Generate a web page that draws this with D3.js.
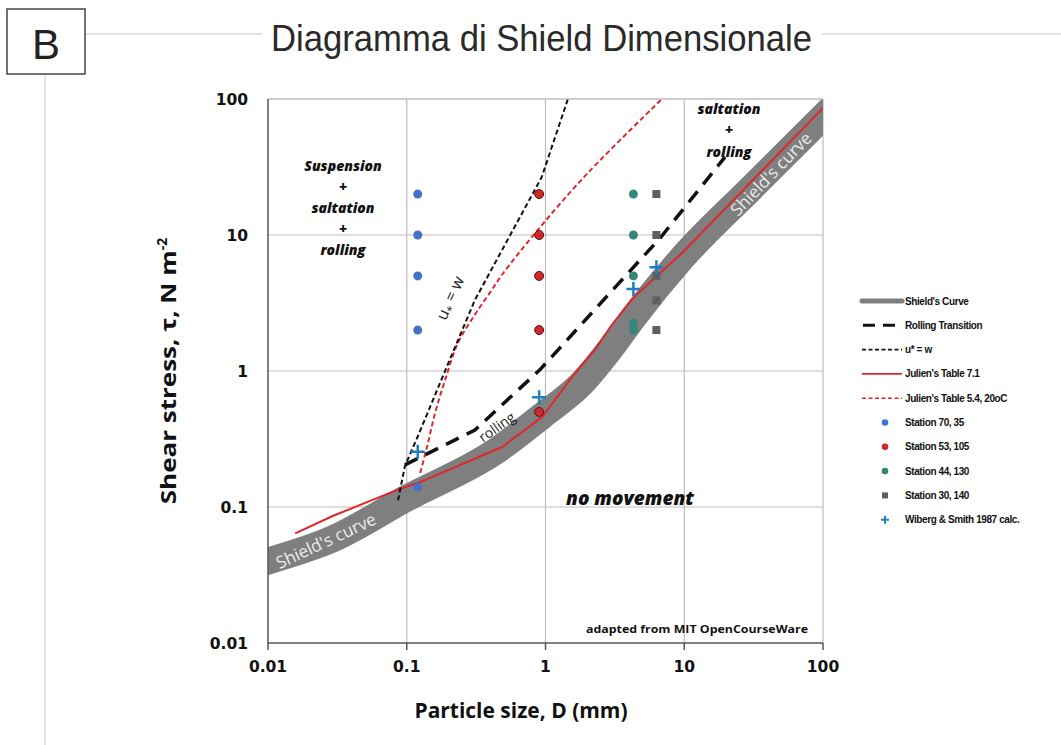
<!DOCTYPE html>
<html>
<head>
<meta charset="utf-8">
<script src="https://cdn.jsdelivr.net/npm/d3@7"></script>
<style>
  body { margin: 0; background: #fff; }
  svg text { font-family: "Open Sans", "Liberation Sans", sans-serif; }
</style>
</head>
<body>
<div id="chart"></div>
<script>
const width = 1061;
const height = 745;

// decade ticks on both log axes
const xTicks = [0.01, 0.1, 1, 10, 100];
const yTicks = [0.01, 0.1, 1, 10, 100];
const tickText = ["0.01", "0.1", "1", "10", "100"];

// curves, [D mm, tau N/m2]
const shieldsBand = [[0.01, 0.040], [0.029, 0.058], [0.1, 0.116], [0.43, 0.254], [0.95, 0.47], [1.84, 0.82], [3.0, 1.5], [4.27, 2.45], [9.8, 6.9], [31, 22.5], [100, 74]];
const julien71 = [[0.0157, 0.064], [0.029, 0.0855], [0.089, 0.136], [0.12, 0.15], [0.486, 0.276], [0.944, 0.459], [1.55, 0.9], [2.27, 1.43], [3.0, 2.18], [4.27, 3.44], [9.8, 7.5], [100, 86]];
const julien54 = [[0.125, 0.178], [0.14, 0.276], [0.16, 0.49], [0.189, 0.86], [0.234, 1.61], [0.31, 2.6], [0.4, 3.8], [0.486, 5.1], [0.88, 10.9], [2.02, 28.6], [6.9, 100]];
const uStarW = [[0.0865, 0.112], [0.097, 0.2], [0.12, 0.33], [0.2, 1.15], [0.31, 3.33], [0.94, 26.7], [1.45, 100]];
const rollingTransition = [[0.097, 0.204], [0.31, 0.368], [0.91, 1.02], [6.7, 9.5], [19.7, 37.5]];

// station measurements
const station70 = [[0.12, 20], [0.12, 10], [0.12, 5], [0.12, 2], [0.12, 0.14]];
const station53 = [[0.9, 20], [0.9, 10], [0.9, 5], [0.9, 2], [0.9, 0.5]];
const station44 = [[4.3, 20], [4.3, 10], [4.3, 5], [4.3, 2.25], [4.3, 2]];
const station30 = [[6.3, 20], [6.3, 10], [6.3, 5], [6.3, 3.3], [6.3, 2]];
const wiberg = [[0.12, 0.255], [0.9, 0.64], [4.3, 4.0], [6.3, 5.8]];

const legendLabels = ["Shield's Curve", "Rolling Transition", "u* = w", "Julien's Table 7.1", "Julien's Table 5.4, 20oC",
  "Station 70, 35", "Station 53, 105", "Station 44, 130", "Station 30, 140", "Wiberg & Smith 1987 calc."];

const svg = d3.select("#chart")
  .append("svg")
  .attr("width", width)
  .attr("height", height);

svg.append("rect").attr("width", width).attr("height", height).attr("fill", "#fff");

// header: panel letter box, rule lines and title
svg.append("line").attr("x1", 45).attr("x2", 45).attr("y1", 74).attr("y2", height)
  .attr("stroke", "#e4e4e4").attr("stroke-width", 2);
svg.append("line").attr("x1", 85).attr("x2", 262).attr("y1", 34).attr("y2", 34)
  .attr("stroke", "#e4e4e4").attr("stroke-width", 2);
svg.append("line").attr("x1", 822).attr("x2", width).attr("y1", 34).attr("y2", 34)
  .attr("stroke", "#e4e4e4").attr("stroke-width", 2);
svg.append("rect").attr("x", 7).attr("y", 9).attr("width", 78).attr("height", 65)
  .attr("fill", "#fff").attr("stroke", "#444").attr("stroke-width", 1.5);
svg.append("text").attr("x", 46).attr("y", 59).attr("text-anchor", "middle")
  .style("font-family", "Liberation Sans, Arial, sans-serif").style("font-size", "42px").attr("fill", "#222")
  .text("B");
svg.append("text").attr("x", 271).attr("y", 51)
  .attr("textLength", 541).attr("lengthAdjust", "spacingAndGlyphs")
  .style("font-family", "Liberation Sans, Arial, sans-serif").style("font-size", "37px").attr("fill", "#2a2a2a")
  .text("Diagramma di Shield Dimensionale");

// scales
const x = d3.scaleLog().domain([0.01, 100]).range([268, 823]);
const y = d3.scaleLog().domain([0.01, 100]).range([643, 99]);

const line = d3.line().x(d => x(d[0])).y(d => y(d[1]));
const smooth = d3.line().x(d => x(d[0])).y(d => y(d[1])).curve(d3.curveMonotoneX);
const round = d3.line().x(d => x(d[0])).y(d => y(d[1])).curve(d3.curveCatmullRom.alpha(0.5));

// grid
svg.append("g").selectAll("line").data(xTicks.slice(1))
  .enter().append("line")
  .attr("x1", d => x(d)).attr("x2", d => x(d))
  .attr("y1", y(100)).attr("y2", y(0.01))
  .attr("stroke", "#bdbdbd").attr("stroke-width", 1.2);
svg.append("g").selectAll("line").data(yTicks.slice(1))
  .enter().append("line")
  .attr("x1", x(0.01)).attr("x2", x(100))
  .attr("y1", d => y(d)).attr("y2", d => y(d))
  .attr("stroke", "#bdbdbd").attr("stroke-width", 1.2);

// clip to plot area
svg.append("clipPath").attr("id", "plotClip")
  .append("rect").attr("x", x(0.01)).attr("y", y(100))
  .attr("width", x(100) - x(0.01)).attr("height", y(0.01) - y(100));

const plot = svg.append("g").attr("clip-path", "url(#plotClip)");

// Shield's curve band
plot.append("path").datum(shieldsBand)
  .attr("d", smooth).attr("fill", "none")
  .attr("stroke", "#7f7f7f").attr("stroke-width", 27)
  .attr("stroke-linejoin", "round").attr("stroke-linecap", "square");

plot.append("text")
  .attr("transform", "translate(326,541) rotate(-25)")
  .attr("text-anchor", "middle").attr("dy", "0.35em").attr("fill", "#ececec")
  .style("font-size", "17px").text("Shield's curve");
plot.append("text")
  .attr("transform", "translate(771,174) rotate(-46)")
  .attr("text-anchor", "middle").attr("dy", "0.35em").attr("fill", "#ececec")
  .style("font-size", "17px").text("Shield's curve");

// lines
plot.append("path").datum(julien71)
  .attr("d", line).attr("fill", "none")
  .attr("stroke", "#e0262b").attr("stroke-width", 2);
plot.append("path").datum(julien54)
  .attr("d", round).attr("fill", "none")
  .attr("stroke", "#e0262b").attr("stroke-width", 2).attr("stroke-dasharray", "5,3");
plot.append("path").datum(uStarW)
  .attr("d", line).attr("fill", "none")
  .attr("stroke", "#111").attr("stroke-width", 2).attr("stroke-dasharray", "5,3");
plot.append("path").datum(rollingTransition)
  .attr("d", line).attr("fill", "none")
  .attr("stroke", "#111").attr("stroke-width", 3.5).attr("stroke-dasharray", "14,9");

// stations
plot.append("g").selectAll("circle").data(station70)
  .enter().append("circle")
  .attr("cx", d => x(d[0])).attr("cy", d => y(d[1])).attr("r", 4.5)
  .attr("fill", "#4472c4");
plot.append("g").selectAll("circle").data(station53)
  .enter().append("circle")
  .attr("cx", d => x(d[0])).attr("cy", d => y(d[1])).attr("r", 4.5)
  .attr("fill", "#d0282d").attr("stroke", "#5a1010").attr("stroke-width", 1);
plot.append("g").selectAll("circle").data(station44)
  .enter().append("circle")
  .attr("cx", d => x(d[0])).attr("cy", d => y(d[1])).attr("r", 4.5)
  .attr("fill", "#34877a");
plot.append("g").selectAll("rect").data(station30)
  .enter().append("rect")
  .attr("x", d => x(d[0]) - 4).attr("y", d => y(d[1]) - 4).attr("width", 8).attr("height", 8)
  .attr("fill", "#5f5f5f");
plot.append("g").selectAll("path").data(wiberg)
  .enter().append("path")
  .attr("d", d => `M${x(d[0]) - 7},${y(d[1])}h14M${x(d[0])},${y(d[1]) - 7}v14`)
  .attr("stroke", "#1f7fc4").attr("stroke-width", 2.5).attr("fill", "none");

// region labels
const regionFont = "Open Sans, Liberation Sans, sans-serif";
const leftLabel = ["Suspension", "+", "saltation", "+", "rolling"];
const leftY = [166, 187, 208, 229, 250];
svg.append("g").selectAll("text").data(leftLabel)
  .enter().append("text")
  .attr("x", 343).attr("y", (d, i) => leftY[i]).attr("dy", "0.35em")
  .attr("text-anchor", "middle")
  .style("font-family", regionFont).style("font-weight", "800").style("font-style", "italic")
  .style("font-size", "14px").attr("fill", "#111")
  .text(d => d);
const rightLabel = ["saltation", "+", "rolling"];
const rightY = [109, 130, 152];
svg.append("g").selectAll("text").data(rightLabel)
  .enter().append("text")
  .attr("x", 729).attr("y", (d, i) => rightY[i]).attr("dy", "0.35em")
  .attr("text-anchor", "middle")
  .style("font-family", regionFont).style("font-weight", "800").style("font-style", "italic")
  .style("font-size", "14px").attr("fill", "#111")
  .text(d => d);
svg.append("text").attr("x", 630).attr("y", 498).attr("dy", "0.35em")
  .attr("text-anchor", "middle")
  .style("font-weight", "800").style("font-style", "italic").style("font-size", "19px").attr("fill", "#111")
  .text("no movement");
svg.append("text")
  .attr("transform", "translate(497,427) rotate(-35)")
  .attr("text-anchor", "middle").attr("dy", "0.35em")
  .style("font-size", "14px").attr("fill", "#222")
  .text("rolling");
const ulab = svg.append("text")
  .attr("transform", "translate(450,298) rotate(-66)")
  .attr("text-anchor", "middle").attr("dy", "0.35em")
  .style("font-size", "16px").attr("fill", "#222");
ulab.append("tspan").text("u");
ulab.append("tspan").attr("dy", "4").style("font-size", "11px").text("*");
ulab.append("tspan").attr("dy", "-4").text(" = w");
svg.append("text").attr("x", 808).attr("y", 629).attr("dy", "0.35em")
  .attr("text-anchor", "end")
  .attr("textLength", 222).attr("lengthAdjust", "spacingAndGlyphs")
  .style("font-weight", "700").style("font-size", "11px").attr("fill", "#111")
  .text("adapted from MIT OpenCourseWare");

// plot frame: light top/right, dark left/bottom axis
svg.append("line").attr("x1", x(0.01)).attr("x2", x(100)).attr("y1", y(100)).attr("y2", y(100))
  .attr("stroke", "#bdbdbd").attr("stroke-width", 1.2);
svg.append("line").attr("x1", x(0.01)).attr("x2", x(0.01)).attr("y1", y(100)).attr("y2", y(0.01))
  .attr("stroke", "#555").attr("stroke-width", 1.5);
svg.append("line").attr("x1", x(0.01)).attr("x2", x(100)).attr("y1", y(0.01)).attr("y2", y(0.01))
  .attr("stroke", "#555").attr("stroke-width", 1.5);
svg.append("g").selectAll("line").data(xTicks)
  .enter().append("line")
  .attr("x1", d => x(d)).attr("x2", d => x(d))
  .attr("y1", y(0.01)).attr("y2", y(0.01) + 7)
  .attr("stroke", "#555").attr("stroke-width", 1.5);

// tick labels
const tickFont = "DejaVu Sans, Verdana, sans-serif";
svg.append("g").selectAll("text").data(yTicks)
  .enter().append("text")
  .attr("x", 248).attr("y", d => y(d)).attr("dy", "0.36em")
  .attr("text-anchor", "end")
  .style("font-family", tickFont).style("font-weight", "bold").style("font-size", "15.5px").attr("fill", "#111")
  .text((d, i) => tickText[i]);
svg.append("g").selectAll("text").data(xTicks)
  .enter().append("text")
  .attr("x", d => x(d)).attr("y", 666).attr("dy", "0.36em")
  .attr("text-anchor", "middle")
  .style("font-family", tickFont).style("font-weight", "bold").style("font-size", "15.5px").attr("fill", "#111")
  .text((d, i) => tickText[i]);

// axis titles
svg.append("text").attr("x", 521).attr("y", 710).attr("dy", "0.35em")
  .attr("text-anchor", "middle")
  .attr("textLength", 213).attr("lengthAdjust", "spacingAndGlyphs")
  .style("font-weight", "bold").style("font-size", "22px").attr("fill", "#111")
  .text("Particle size, D (mm)");
const ytitle = svg.append("text")
  .attr("transform", "translate(168,371) rotate(-90)")
  .attr("text-anchor", "middle").attr("dy", "0.35em")
  .style("font-weight", "bold").style("font-size", "22px").attr("fill", "#111");
ytitle.append("tspan").attr("textLength", 254).attr("lengthAdjust", "spacingAndGlyphs").text("Shear stress, τ, N m");
ytitle.append("tspan").attr("dy", "-9").style("font-size", "14px").text("-2");

// legend
const legY = d3.range(legendLabels.length).map(i => 301 + i * 24.3);
const legend = svg.append("g").attr("class", "legend");
legend.selectAll("text").data(legendLabels)
  .enter().append("text")
  .attr("x", 905).attr("y", (d, i) => legY[i]).attr("dy", "0.35em")
  .style("font-family", "Liberation Sans, Arial, sans-serif").style("font-weight", "bold")
  .style("font-size", "10px").style("letter-spacing", "-0.4px").attr("fill", "#111")
  .text(d => d);

const legLines = [
  { stroke: "#7f7f7f", w: 5, dash: null },
  { stroke: "#111", w: 3, dash: "12,8" },
  { stroke: "#111", w: 1.6, dash: "4,2.5" },
  { stroke: "#e0262b", w: 1.8, dash: null },
  { stroke: "#e0262b", w: 1.6, dash: "4,2.5" }
];
legend.selectAll("line").data(legLines)
  .enter().append("line")
  .attr("x1", (d, i) => i === 1 ? 863 : 862).attr("x2", 902)
  .attr("y1", (d, i) => legY[i]).attr("y2", (d, i) => legY[i])
  .attr("stroke", d => d.stroke).attr("stroke-width", d => d.w)
  .attr("stroke-dasharray", d => d.dash)
  .attr("stroke-linecap", (d, i) => i === 0 ? "round" : "butt");

const legDots = ["#4472c4", "#d0282d", "#34877a"];
legend.selectAll("circle").data(legDots)
  .enter().append("circle")
  .attr("cx", 885).attr("cy", (d, i) => legY[5 + i]).attr("r", 3.3)
  .attr("fill", d => d);
legend.append("rect").attr("x", 882).attr("y", legY[8] - 3).attr("width", 6).attr("height", 6).attr("fill", "#5f5f5f");
legend.append("path")
  .attr("d", `M881,${legY[9]}h8M885,${legY[9] - 4}v8`)
  .attr("stroke", "#1f7fc4").attr("stroke-width", 2);
</script>
</body>
</html>
